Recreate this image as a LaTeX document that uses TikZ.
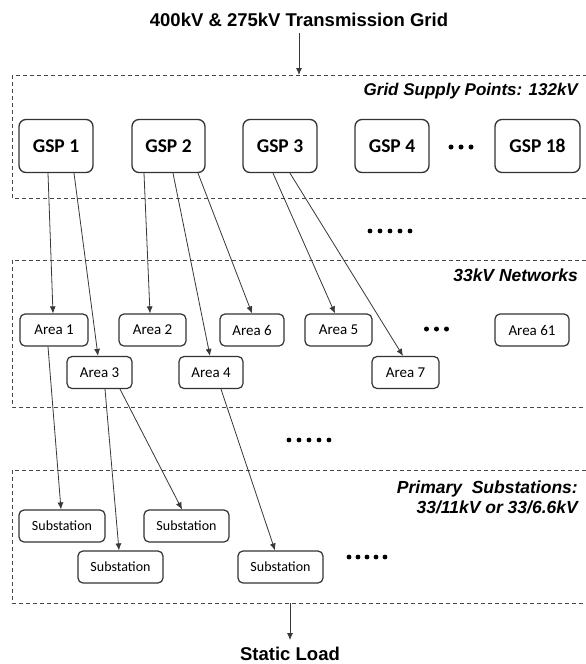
\documentclass[tikz,border=0pt]{standalone}
\usepackage{fontspec}
\setmainfont{Liberation Sans}
\newfontfamily\carlito{Carlito}
\usetikzlibrary{arrows.meta,calc}

\begin{document}
\begin{tikzpicture}[x=1pt,y=-1pt,
  layer/.style={draw=black!72, line width=1pt, dash pattern=on 4pt off 3pt},
  gspbox/.style={draw=black!80, line width=1.3pt, rounded corners=7pt,
    minimum width=74pt, minimum height=53pt, inner sep=0pt,
    font=\carlito\bfseries\fontsize{19.5}{22}\selectfont},
  areabox/.style={draw=black!80, line width=1.2pt, rounded corners=5pt,
    minimum height=32pt, inner sep=0pt,
    font=\carlito\fontsize{15}{17}\selectfont},
  subbox/.style={draw=black!80, line width=1.2pt, rounded corners=5pt,
    minimum width=85pt, minimum height=32pt, inner sep=0pt,
    font=\carlito\fontsize{14}{16}\selectfont},
  feed/.style={draw=black!78, line width=0.8pt, -{Latex[length=7pt,width=6pt]}},
  heading/.style={font=\bfseries\itshape\fontsize{17.5}{20}\selectfont,
    anchor=east, align=right, inner sep=0pt},
  caption/.style={font=\bfseries\fontsize{18.5}{22}\selectfont, inner xsep=0pt}
]
\useasboundingbox (0,0) rectangle (586,664);
\fill[white] (0,0) rectangle (586,664);
\clip (0,0) rectangle (586,664);

% voltage tiers
\draw[layer] (12,75) rectangle (600,198);
\draw[layer] (12,260) rectangle (600,407);
\draw[layer] (12,470) rectangle (600,603);

% tier headings
\node[heading, font=\bfseries\itshape\fontsize{17}{20}\selectfont] (gsphead) at (578,91) {Grid Supply Points: 132kV};
\node[heading] (nethead) at (578,275) {33kV Networks};
\node[heading] (subhead) at (578,497) {Primary\ \ Substations:\\33/11kV or 33/6.6kV};

% transmission grid feed
\node[caption, inner ysep=6pt] (title) at (299,20) {400kV \& 275kV Transmission Grid};
\coordinate (gridin) at (299,75);
\draw[feed] (title.south -| gridin) -- (gridin);

% grid supply points
\node[gspbox] (gsp1) at (56,146) {GSP 1};
\node[gspbox, minimum width=73pt] (gsp2) at (168.5,146) {GSP 2};
\node[gspbox] (gsp3) at (280,146) {GSP 3};
\node[gspbox] (gsp4) at (392,146) {GSP 4};
\node[gspbox, minimum width=85pt] (gsp18) at (537.5,146) {GSP 18};
\foreach \x in {451,461,471} \fill (\x,147) circle[radius=2.5pt];

% 33kV areas
\node[areabox, minimum width=68pt] (area1) at (54,330) {Area 1};
\node[areabox, minimum width=67pt] (area2) at (152.5,330) {Area 2};
\node[areabox, minimum width=64pt] (area6) at (252,330) {Area 6};
\node[areabox, minimum width=67pt] (area5) at (338.5,330) {Area 5};
\node[areabox, minimum width=74pt] (area61) at (532,330) {Area 61};
\node[areabox, minimum width=65pt] (area3) at (99.5,372.5) {Area 3};
\node[areabox, minimum width=64pt] (area4) at (211,372.5) {Area 4};
\node[areabox, minimum width=67pt] (area7) at (405.5,372.5) {Area 7};
\foreach \x in {426.5,436.5,446.5} \fill (\x,329) circle[radius=2.5pt];

% primary substations
\node[subbox, minimum width=86pt] (sub1) at (62,526) {Substation};
\node[subbox] (sub3) at (186.5,526) {Substation};
\node[subbox] (sub2) at (120.5,567) {Substation};
\node[subbox] (sub4) at (280.5,567) {Substation};
\foreach \x in {349,358,367,376,385} \fill (\x,557) circle[radius=2.4pt];

% elided tiers
\foreach \x in {370,380,390,400,410} \fill (\x,231) circle[radius=2.4pt];
\foreach \x in {289,299,309,319,329} \fill (\x,440) circle[radius=2.4pt];

% GSP to area feeders
\draw[feed] ([xshift=-8pt]gsp1.south) -- ([xshift=-1pt]area1.north);
\draw[feed] ([xshift=18pt]gsp1.south) -- ([xshift=-1.5pt]area3.north);
\draw[feed] ([xshift=-24.5pt]gsp2.south) -- ([xshift=-2.5pt]area2.north);
\draw[feed] ([xshift=4.5pt]gsp2.south) -- ([xshift=-1pt]area4.north);
\draw[feed] ([xshift=29.5pt]gsp2.south) -- (area6.north);
\draw[feed] ([xshift=-7pt]gsp3.south) -- ([xshift=-3.5pt]area5.north);
\draw[feed] ([xshift=10pt]gsp3.south) -- ([xshift=-2.5pt]area7.north);

% area to substation feeders
\draw[feed] ([xshift=-6pt]area1.south) -- ([xshift=-1pt]sub1.north);
\draw[feed] ([xshift=5.5pt]area3.south) -- ([xshift=-1.5pt]sub2.north);
\draw[feed] ([xshift=20.5pt]area3.south) -- ([xshift=-4.5pt]sub3.north);
\draw[feed] ([xshift=10pt]area4.south) -- ([xshift=-5.5pt]sub4.north);

% load
\coordinate (loadout) at (290,603);
\node[caption, inner ysep=7pt] (load) at (290,654) {Static Load};
\draw[feed] (loadout) -- (load.north -| loadout);
\end{tikzpicture}
\end{document}
